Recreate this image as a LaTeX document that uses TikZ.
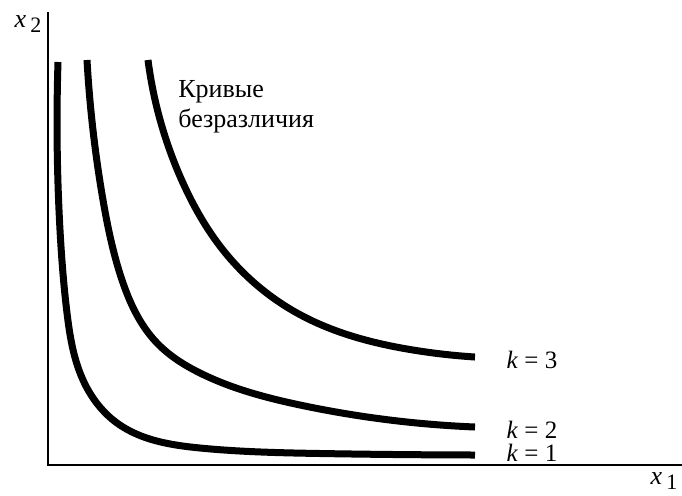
\documentclass[tikz,border=0pt]{standalone}
\usepackage{fontspec}
\setmainfont{Liberation Serif}
\usetikzlibrary{positioning, hobby}
\newcommand{\axsub}[1]{\raisebox{-0.45ex}{\fontsize{11}{12}\selectfont #1}}

\begin{document}
\begin{tikzpicture}[x=0.5pt, y=-0.5pt,
  axisl/.style={line width=1.25pt},
  indiff/.style={line width=3.5pt, use Hobby shortcut},
  lbl/.style={font=\fontsize{13}{15}\selectfont, inner sep=0pt, align=left},
  klbl/.style={font=\fontsize{12.5}{14}\selectfont, inner sep=0pt},
]
\useasboundingbox (0,0) rectangle (682,495);

% Axes
\coordinate (top) at (48,12);
\coordinate (orig) at (48,465);
\coordinate (right) at (682,465);
\draw[axisl] (top) -- (orig) -- (right);
\node[lbl] (xtwo) at (28,24) {\textit{x}\,\axsub{2}};
\node[lbl] (xone) at (664,481) {\textit{x}\,\axsub{1}};

% Indifference curves
\draw[indiff] (58,62) .. (60,230) .. (67,313) .. (83,380) .. (117,423)
  .. (200,448) .. (320,453.5) .. (475,455);
\draw[indiff] (87,60) .. (103,200) .. (122,280) .. (157,343) .. (200,373)
  .. (300,405) .. (475,427);
\draw[indiff] (148,60) .. (183,183) .. (223,250) .. (297,313) .. (413,350)
  .. (475,357);

% Labels
\node[lbl, anchor=north west] (title) at (178,80) {Кривые\\безразличия};
\node[klbl] (kthree) at (532,360) {\textit{k} = 3};
\node[klbl] (ktwo) at (532,430) {\textit{k} = 2};
\node[klbl] (kone) at (532,453) {\textit{k} = 1};

\end{tikzpicture}
\end{document}
